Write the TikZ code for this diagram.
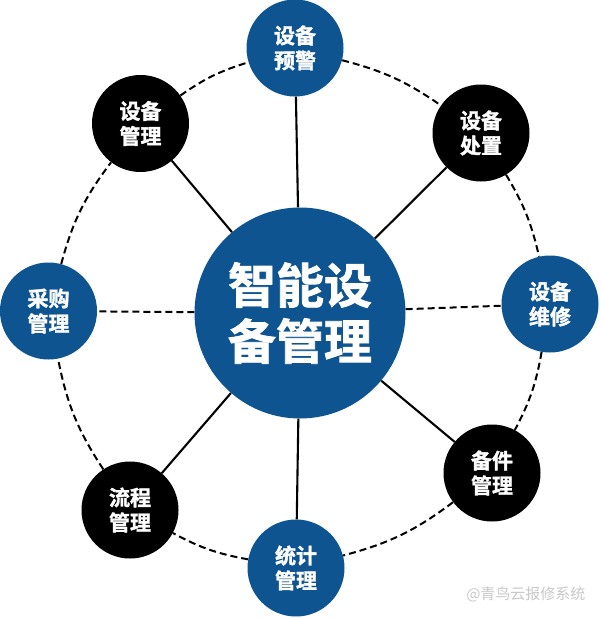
\documentclass[tikz,border=0pt]{standalone}
\usepackage{fontspec}
\newfontfamily\cjk{Noto Sans CJK SC}
\newfontfamily\cjkbold[FakeBold=1.6]{Noto Sans CJK SC Bold}
\definecolor{mainblue}{RGB}{14,84,144}
\definecolor{wmgray}{RGB}{200,200,200}
\begin{document}
\begin{tikzpicture}[x=1pt,y=-1pt,
  sat/.style={circle,minimum size=97pt,inner sep=0pt,text=white,align=center,
    font=\fontsize{21}{25}\cjkbold},
  bluesat/.style={sat,fill=mainblue},
  blacksat/.style={sat,fill=black},
  hub/.style={circle,minimum size=211pt,inner sep=0pt,fill=mainblue,text=white,align=center,
    font=\fontsize{48}{56}\cjkbold},
  spoke/.style={line width=2.1pt,black},
  ring/.style={line width=2pt,black,dash pattern=on 7pt off 4pt}]
\useasboundingbox (0,0) rectangle (600,618);
\fill[white] (0,0) rectangle (600,618);
% nodes
\node[hub] (hub) at (300,313) {智能设\\备管理};
\node[bluesat] (yj) at (295,48) {设备\\预警};
\node[blacksat] (cz) at (481,133) {设备\\处置};
\node[bluesat] (wx) at (550,304) {设备\\维修};
\node[blacksat] (bj) at (492,473) {备件\\管理};
\node[bluesat] (tj) at (296,568) {统计\\管理};
\node[blacksat] (lc) at (130,510) {流程\\管理};
\node[bluesat] (cg) at (48.5,311) {采购\\管理};
\node[blacksat] (gl) at (140.5,123.5) {设备\\管理};
% ring
\draw[ring] (yj) to[bend left=10] (cz);
\draw[ring] (cz) to[bend left=9] (wx);
\draw[ring] (wx) to[bend left=9] (bj);
\draw[ring] (bj) to[bend left=11] (tj);
\draw[ring] (tj) to[bend left=9] (lc);
\draw[ring] (lc) to[bend left=11] (cg);
\draw[ring] (cg) to[bend left=11] (gl);
\draw[ring] (gl) to[bend left=9] (yj);
% spokes
\draw[spoke] (hub) -- (yj);
\draw[spoke] (hub) -- (cz);
\draw[spoke] (hub) -- (bj);
\draw[spoke] (hub) -- (tj);
\draw[spoke] (hub) -- (lc);
\draw[spoke] (hub) -- (gl);
\draw[ring] (hub) -- (wx);
\draw[ring] (hub) -- (cg);
% watermark
\node[text=wmgray,font=\fontsize{15}{15}\cjk,anchor=east] (wm) at (589,594) {@青鸟云报修系统};
\end{tikzpicture}
\end{document}
